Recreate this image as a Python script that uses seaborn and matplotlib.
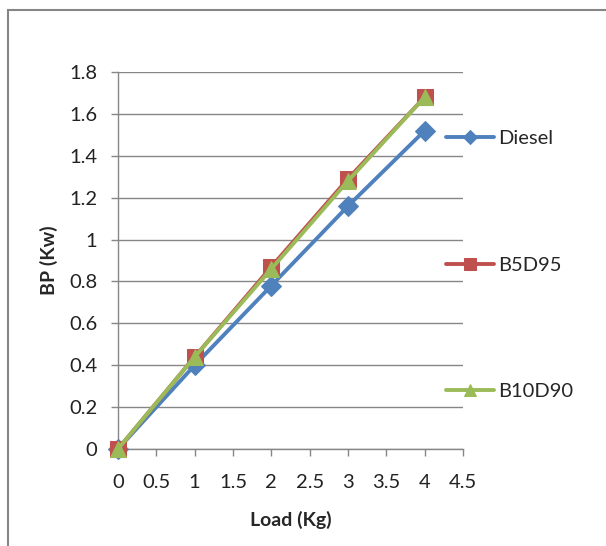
import matplotlib
matplotlib.use("Agg")
import matplotlib.pyplot as plt
import seaborn as sns
import pandas as pd
from matplotlib.patches import Rectangle

# data
load = [0, 1, 2, 3, 4]
diesel = [0, 0.40, 0.78, 1.16, 1.52]
b5d95 = [0, 0.44, 0.87, 1.29, 1.68]
b10d90 = [0, 0.44, 0.86, 1.28, 1.68]
series = ["Diesel", "B5D95", "B10D90"]
colors = ["#4F81BD", "#C0504D", "#9BBB59"]
markers = ["D", "s", "^"]
marker_sizes = [10, 11, 12]

sns.set_style("white")
plt.rcParams["font.family"] = ["Lato", "DejaVu Sans"]

df = pd.DataFrame({
    "Load": load * 3,
    "BP": diesel + b5d95 + b10d90,
    "Fuel": [s for s in series for _ in load],
})

fig = plt.figure(figsize=(6.06, 5.46), dpi=100)
ax = fig.add_axes([118 / 606, 1 - 449 / 546, (463 - 118) / 606, (449 - 72) / 546])

for name, col, mk, ms in zip(series, colors, markers, marker_sizes):
    sub = df[df["Fuel"] == name]
    sns.lineplot(data=sub, x="Load", y="BP", ax=ax, color=col, marker=mk,
                 markersize=ms, markeredgecolor=col, linewidth=2.8,
                 label=name, clip_on=False, zorder=3)

ax.set_xlim(0, 4.5)
ax.set_ylim(0, 1.8)
ax.set_xticks([0, 0.5, 1, 1.5, 2, 2.5, 3, 3.5, 4, 4.5])
ax.set_xticklabels(["0", "0.5", "1", "1.5", "2", "2.5", "3", "3.5", "4", "4.5"])
ax.set_yticks([0, 0.2, 0.4, 0.6, 0.8, 1.0, 1.2, 1.4, 1.6, 1.8])
ax.set_yticklabels(["0", "0.2", "0.4", "0.6", "0.8", "1", "1.2", "1.4", "1.6", "1.8"])

ax.grid(axis="y", color="#868686", linewidth=1)
ax.grid(axis="x", visible=False)
for side in ["top", "right"]:
    ax.spines[side].set_visible(False)
for side in ["left", "bottom"]:
    ax.spines[side].set_color("#868686")
    ax.spines[side].set_linewidth(1)

ax.tick_params(axis="both", which="both", direction="out", length=5, width=1,
               color="#868686", labelsize=14.5, labelcolor="#222222")
ax.tick_params(axis="x", pad=13, bottom=True)
ax.tick_params(axis="y", pad=10, left=True)

ax.set_xlabel("Load (Kg)", fontsize=14, fontweight="bold", labelpad=14)
ax.set_ylabel("BP (Kw)", fontsize=14, fontweight="bold", labelpad=8)

ax.legend(loc="center left", bbox_to_anchor=(446 / 606, 1 - 265 / 546),
          bbox_transform=fig.transFigure, frameon=False, fontsize=14.5,
          labelspacing=5.45, handlelength=2.4, handletextpad=0.2,
          borderpad=0, borderaxespad=0, markerscale=0.75)

# outer frame of the original chart area (crop shows only top and left edges)
fig.patches.append(Rectangle((8 / 606, -0.1), 1.2, 1 - 10 / 546 + 0.1,
                             transform=fig.transFigure, fill=False,
                             edgecolor="#868686", linewidth=1.5))

fig.savefig("out.png", dpi=100)
